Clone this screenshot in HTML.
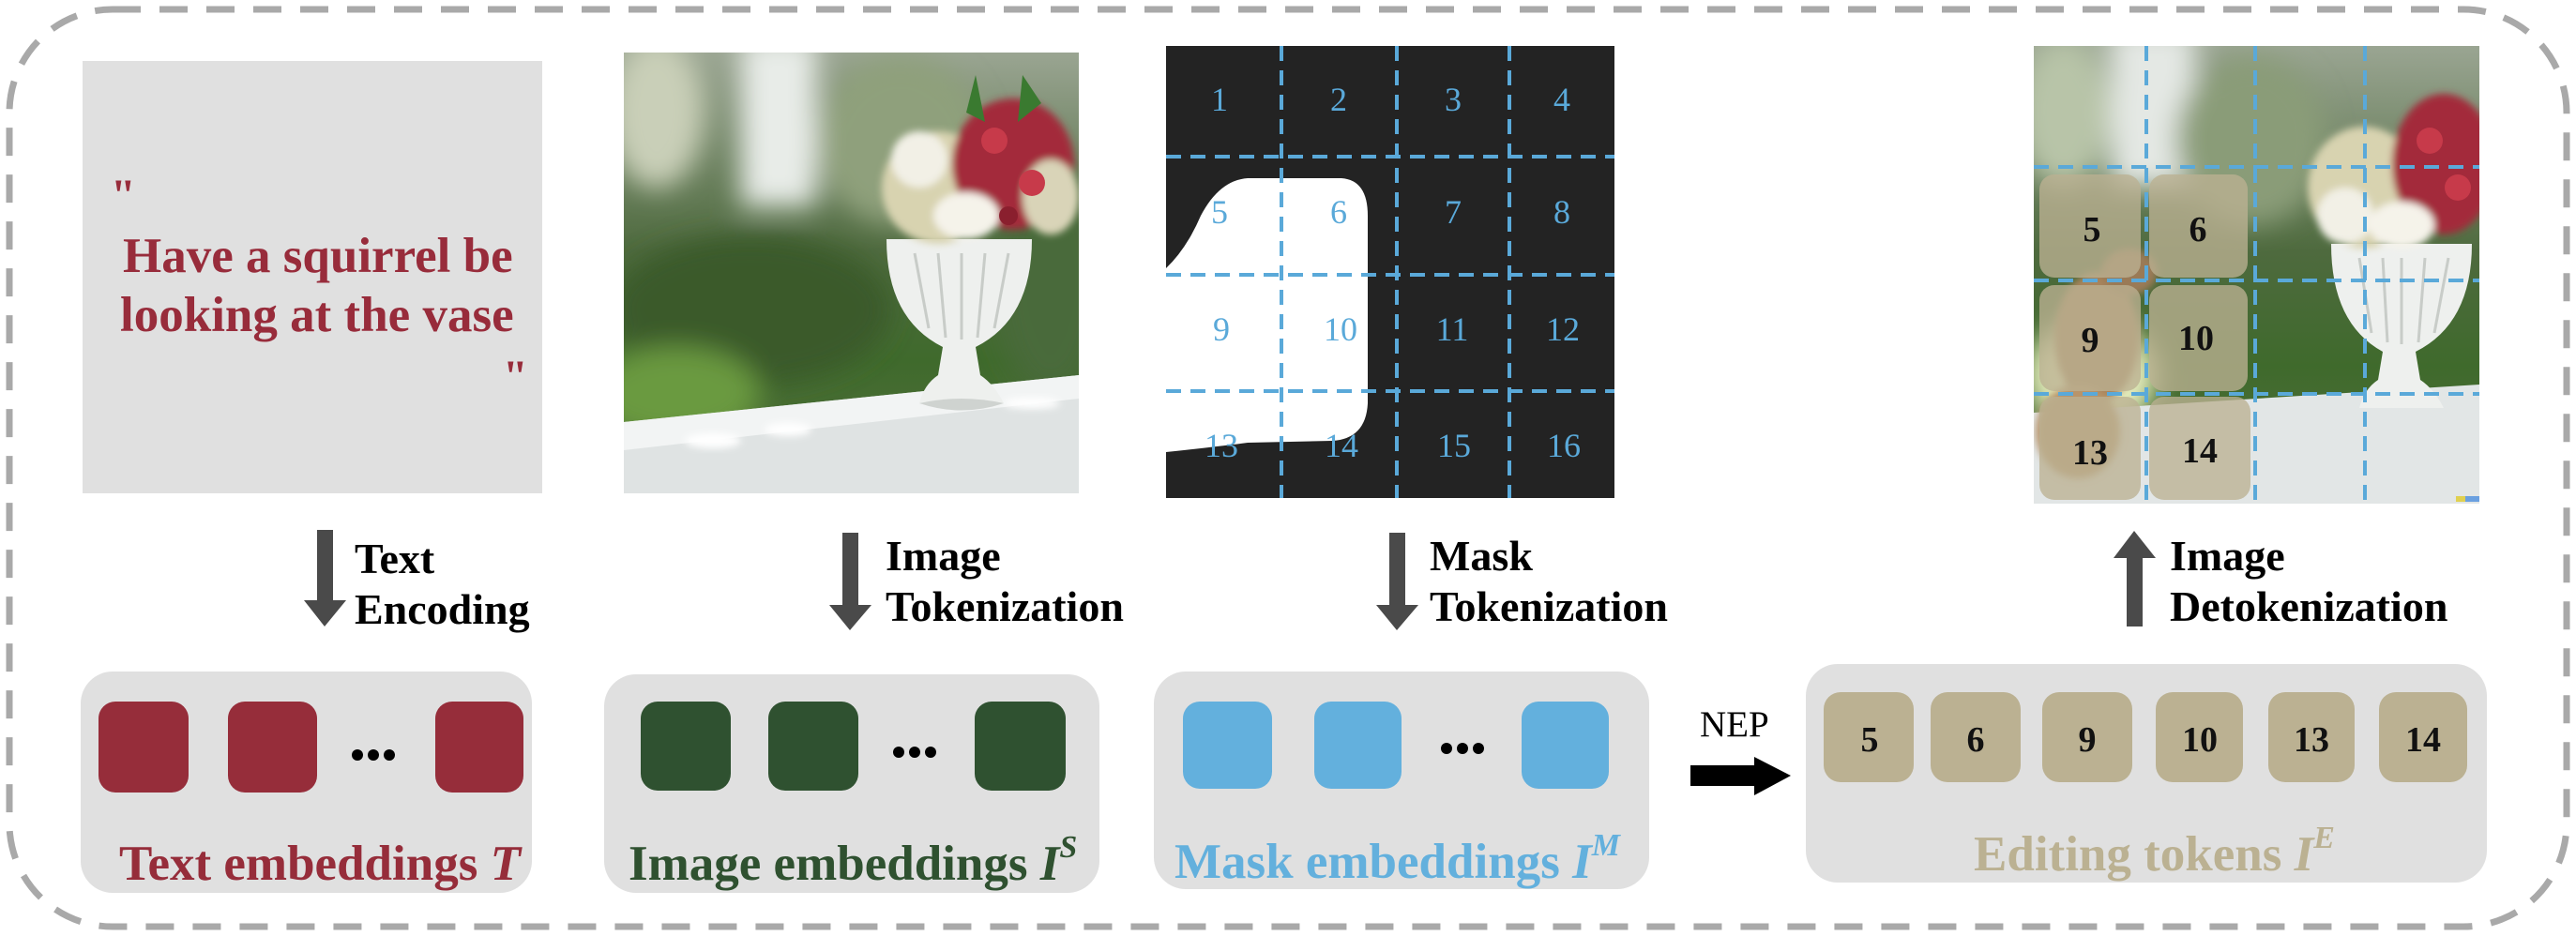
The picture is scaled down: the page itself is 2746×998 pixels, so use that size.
<!DOCTYPE html>
<html><head><meta charset="utf-8"><style>
html,body{margin:0;padding:0;background:#fff;}
svg{display:block;}
text{font-family:"Liberation Serif",serif;}
</style></head><body>
<svg width="2746" height="998" viewBox="0 0 2746 998" xmlns="http://www.w3.org/2000/svg">
<defs>
<filter id="b8" x="-20%" y="-20%" width="140%" height="140%"><feGaussianBlur stdDeviation="14"/></filter>
<filter id="b3"><feGaussianBlur stdDeviation="4"/></filter>
<clipPath id="c1"><rect x="665" y="56" width="485" height="470"/></clipPath>
<clipPath id="c2"><rect x="2168" y="49" width="475" height="488"/></clipPath>
<linearGradient id="bg1" x1="0" y1="0" x2="0" y2="1">
<stop offset="0" stop-color="#9aa592"/><stop offset="0.45" stop-color="#4e6a3e"/><stop offset="0.7" stop-color="#3f6a2c"/><stop offset="1" stop-color="#56703f"/></linearGradient>
</defs>
<rect x="10" y="10" width="2726" height="978" rx="110" fill="none" stroke="#a9a9a9" stroke-width="7" stroke-dasharray="30 20"/>

<rect x="88" y="65" width="490" height="461" fill="#e0e0e0"/>
<g fill="#982c3b" font-weight="bold" font-size="53">
<text x="118" y="224" font-size="48">"</text>
<text x="131" y="290">Have a squirrel be</text>
<text x="128" y="353">looking at the vase</text>
<text x="536" y="417" font-size="48">"</text>
</g>

<g clip-path="url(#c1)">
<rect x="665" y="56" width="485" height="470" fill="url(#bg1)"/>
<g filter="url(#b8)">
<rect x="790" y="40" width="80" height="180" fill="#e8ece8"/>
<ellipse cx="700" cy="120" rx="50" ry="80" fill="#c9cfb8"/>
<ellipse cx="960" cy="150" rx="90" ry="90" fill="#8fa07c"/>
<ellipse cx="800" cy="330" rx="150" ry="80" fill="#3a5a2a"/>
<ellipse cx="720" cy="420" rx="90" ry="50" fill="#6a9a40"/>
<ellipse cx="1120" cy="300" rx="60" ry="120" fill="#4a6a3a"/>
</g>
<polygon points="665,450 1150,400 1150,526 665,526" fill="#dfe3e3"/>
<polygon points="665,450 1150,400 1150,425 665,480" fill="#f2f4f4"/>
<g filter="url(#b3)">
<ellipse cx="760" cy="470" rx="30" ry="8" fill="#fff"/>
<ellipse cx="840" cy="458" rx="25" ry="7" fill="#fff"/>
<ellipse cx="1100" cy="430" rx="30" ry="6" fill="#fff"/>
</g>
<path d="M945,255 Q945,340 1005,370 L1000,400 Q985,410 980,430 L1070,430 Q1060,410 1045,400 L1040,370 Q1100,340 1100,255 Z" fill="#eef0ee"/>
<path d="M980,430 Q1025,445 1070,430 Q1025,420 980,430Z" fill="#cfd3d0"/>
<g stroke="#c8ccc8" stroke-width="3"><line x1="975" y1="270" x2="990" y2="350"/><line x1="1000" y1="270" x2="1008" y2="360"/><line x1="1025" y1="270" x2="1025" y2="362"/><line x1="1050" y1="270" x2="1042" y2="360"/><line x1="1075" y1="270" x2="1060" y2="350"/></g>
<g filter="url(#b3)">
<ellipse cx="1000" cy="200" rx="60" ry="60" fill="#d8d3b0"/>
<ellipse cx="1080" cy="175" rx="65" ry="70" fill="#a32a3a"/>
<ellipse cx="980" cy="170" rx="30" ry="30" fill="#f2f0e6"/>
<ellipse cx="1030" cy="230" rx="35" ry="25" fill="#f5f3ea"/>
<ellipse cx="1120" cy="210" rx="30" ry="40" fill="#d9d4b8"/>
</g>
<circle cx="1060" cy="150" r="14" fill="#c73a4a"/><circle cx="1100" cy="195" r="14" fill="#c73a4a"/><circle cx="1075" cy="230" r="10" fill="#8a1f2e"/>
<path d="M1040,80 L1050,130 L1030,120Z" fill="#3a7a30"/><path d="M1090,80 L1085,130 L1110,110Z" fill="#3a7a30"/>
</g>

<rect x="1243" y="49" width="478" height="482" fill="#232323"/>
<path d="M1243,286 Q1265,265 1280,230 Q1300,192 1330,190 L1430,190 Q1458,192 1458,230 L1458,430 Q1456,468 1420,470 L1330,472 Q1300,476 1243,482 Z" fill="#fff"/>
<g stroke="#5aa9d9" stroke-width="4" stroke-dasharray="16 10">
<line x1="1366" y1="49" x2="1366" y2="531"/><line x1="1489" y1="49" x2="1489" y2="531"/><line x1="1609" y1="49" x2="1609" y2="531"/>
<line x1="1243" y1="167" x2="1721" y2="167"/><line x1="1243" y1="293" x2="1721" y2="293"/><line x1="1243" y1="417" x2="1721" y2="417"/>
</g>
<g fill="#5aa9d9" font-size="36" text-anchor="middle">
<text x="1300" y="118">1</text><text x="1427" y="118">2</text><text x="1549" y="118">3</text><text x="1665" y="118">4</text>
<text x="1300" y="238">5</text><text x="1427" y="238">6</text><text x="1549" y="238">7</text><text x="1665" y="238">8</text>
<text x="1302" y="363">9</text><text x="1429" y="363">10</text><text x="1548" y="363">11</text><text x="1666" y="363">12</text>
<text x="1302" y="487">13</text><text x="1430" y="487">14</text><text x="1550" y="487">15</text><text x="1667" y="487">16</text>
</g>

<g clip-path="url(#c2)">
<rect x="2168" y="49" width="475" height="488" fill="url(#bg1)"/>
<g filter="url(#b8)">
<rect x="2250" y="30" width="90" height="170" fill="#e4e8e4"/>
<ellipse cx="2200" cy="120" rx="50" ry="80" fill="#b8c4a8"/>
<ellipse cx="2400" cy="150" rx="80" ry="90" fill="#8a9c78"/>
<ellipse cx="2230" cy="400" rx="70" ry="60" fill="#e8efc0"/>
</g>
<polygon points="2168,440 2643,410 2643,537 2168,537" fill="#e2e6e6"/>
<path d="M2485,260 Q2485,345 2540,375 L2535,405 Q2520,415 2515,435 L2605,435 Q2595,415 2580,405 L2575,375 Q2635,345 2635,260 Z" fill="#eef0ee"/>
<g stroke="#c8ccc8" stroke-width="3"><line x1="2515" y1="275" x2="2528" y2="355"/><line x1="2540" y1="275" x2="2545" y2="365"/><line x1="2560" y1="275" x2="2560" y2="367"/><line x1="2585" y1="275" x2="2578" y2="365"/><line x1="2610" y1="275" x2="2595" y2="355"/></g>
<g filter="url(#b3)">
<ellipse cx="2520" cy="200" rx="60" ry="65" fill="#d8d3b0"/>
<ellipse cx="2605" cy="175" rx="55" ry="75" fill="#a32a3a"/>
<ellipse cx="2500" cy="230" rx="30" ry="30" fill="#f2f0e6"/>
<ellipse cx="2560" cy="240" rx="35" ry="25" fill="#f5f3ea"/>
</g>
<circle cx="2590" cy="150" r="14" fill="#c73a4a"/><circle cx="2620" cy="200" r="14" fill="#c73a4a"/>
<g filter="url(#b3)">
<ellipse cx="2235" cy="360" rx="45" ry="70" fill="#a8845c"/>
<ellipse cx="2270" cy="290" rx="30" ry="25" fill="#9a7a56"/>
<ellipse cx="2215" cy="460" rx="45" ry="50" fill="#b8946a"/>
</g>
<rect x="2628" y="529" width="15" height="6" fill="#6aa0e0"/><rect x="2618" y="529" width="10" height="6" fill="#e0d050"/>
</g>
<g stroke="#5aa9d9" stroke-width="4" stroke-dasharray="16 10">
<line x1="2288" y1="49" x2="2288" y2="537"/><line x1="2404" y1="49" x2="2404" y2="537"/><line x1="2521" y1="49" x2="2521" y2="537"/>
<line x1="2168" y1="178" x2="2643" y2="178"/><line x1="2168" y1="299" x2="2643" y2="299"/><line x1="2168" y1="420" x2="2643" y2="420"/>
</g>
<g fill="#bbb192" fill-opacity="0.78">
<rect x="2174" y="186" width="108" height="110" rx="16"/><rect x="2291" y="186" width="105" height="110" rx="16"/>
<rect x="2174" y="304" width="108" height="113" rx="16"/><rect x="2291" y="304" width="105" height="113" rx="16"/>
<rect x="2174" y="423" width="108" height="110" rx="16"/><rect x="2291" y="423" width="108" height="110" rx="16"/>
</g>
<g font-size="38" font-weight="bold" text-anchor="middle" fill="#111">
<text x="2230" y="257">5</text><text x="2343" y="257">6</text>
<text x="2228" y="375">9</text><text x="2341" y="373">10</text>
<text x="2228" y="495">13</text><text x="2345" y="493">14</text>
</g>

<g fill="#4a4a4a">
<rect x="338" y="565" width="17" height="78"/><polygon points="324,640 369,640 346,668"/>
<rect x="898" y="568" width="17" height="80"/><polygon points="884,645 929,645 906,672"/>
<rect x="1481" y="568" width="17" height="80"/><polygon points="1467,645 1512,645 1489,672"/>
<rect x="2267" y="592" width="17" height="76"/><polygon points="2253,595 2298,595 2275,566"/>
</g>
<g font-size="46" font-weight="bold" fill="#000">
<text x="378" y="611">Text</text><text x="378" y="665">Encoding</text>
<text x="944" y="608">Image</text><text x="944" y="662">Tokenization</text>
<text x="1524" y="608">Mask</text><text x="1524" y="662">Tokenization</text>
<text x="2313" y="608">Image</text><text x="2313" y="662">Detokenization</text>
</g>

<rect x="86" y="716" width="481" height="236" rx="34" fill="#e0e0e0"/>
<rect x="644" y="719" width="528" height="233" rx="34" fill="#e0e0e0"/>
<rect x="1230" y="716" width="528" height="232" rx="34" fill="#e0e0e0"/>
<rect x="1925" y="708" width="726" height="233" rx="34" fill="#e0e0e0"/>

<g fill="#962d3a">
<rect x="105" y="748" width="96" height="97" rx="18"/><rect x="243" y="748" width="95" height="97" rx="18"/><rect x="464" y="748" width="94" height="97" rx="18"/>
</g>
<g fill="#2f5130">
<rect x="683" y="748" width="96" height="95" rx="18"/><rect x="819" y="748" width="96" height="95" rx="18"/><rect x="1039" y="748" width="97" height="95" rx="18"/>
</g>
<g fill="#63b0dd">
<rect x="1261" y="748" width="95" height="93" rx="18"/><rect x="1401" y="748" width="93" height="93" rx="18"/><rect x="1622" y="748" width="93" height="93" rx="18"/>
</g>
<g fill="#000">
<circle cx="381" cy="805" r="6"/><circle cx="398" cy="805" r="6"/><circle cx="415" cy="805" r="6"/>
<circle cx="958" cy="802" r="6"/><circle cx="975" cy="802" r="6"/><circle cx="992" cy="802" r="6"/>
<circle cx="1542" cy="798" r="6"/><circle cx="1559" cy="798" r="6"/><circle cx="1576" cy="798" r="6"/>
</g>
<g fill="#bbb192">
<rect x="1944" y="738" width="96" height="96" rx="18"/><rect x="2058" y="738" width="96" height="96" rx="18"/><rect x="2177" y="738" width="96" height="96" rx="18"/>
<rect x="2298" y="738" width="93" height="96" rx="18"/><rect x="2418" y="738" width="92" height="96" rx="18"/><rect x="2536" y="738" width="94" height="96" rx="18"/>
</g>
<g font-size="38" font-weight="bold" text-anchor="middle" fill="#111">
<text x="1993" y="801">5</text><text x="2106" y="801">6</text><text x="2225" y="801">9</text><text x="2345" y="801">10</text><text x="2464" y="801">13</text><text x="2583" y="801">14</text>
</g>

<g font-size="53" font-weight="bold">
<text x="127" y="938" fill="#962d3a">Text embeddings <tspan font-style="italic">T</tspan></text>
<text x="670" y="938" fill="#2f5130">Image embeddings <tspan font-style="italic">I</tspan><tspan font-style="italic" font-size="34" dy="-24">S</tspan></text>
<text x="1252" y="936" fill="#63b0dd">Mask embeddings <tspan font-style="italic">I</tspan><tspan font-style="italic" font-size="34" dy="-24">M</tspan></text>
<text x="2104" y="928" fill="#bbb192">Editing tokens <tspan font-style="italic">I</tspan><tspan font-style="italic" font-size="34" dy="-24">E</tspan></text>
</g>

<text x="1812" y="785" font-size="39" fill="#000">NEP</text>
<rect x="1802" y="816" width="70" height="22" fill="#000"/>
<polygon points="1870,807 1909,827 1870,848" fill="#000"/>
</svg>
</body></html>
